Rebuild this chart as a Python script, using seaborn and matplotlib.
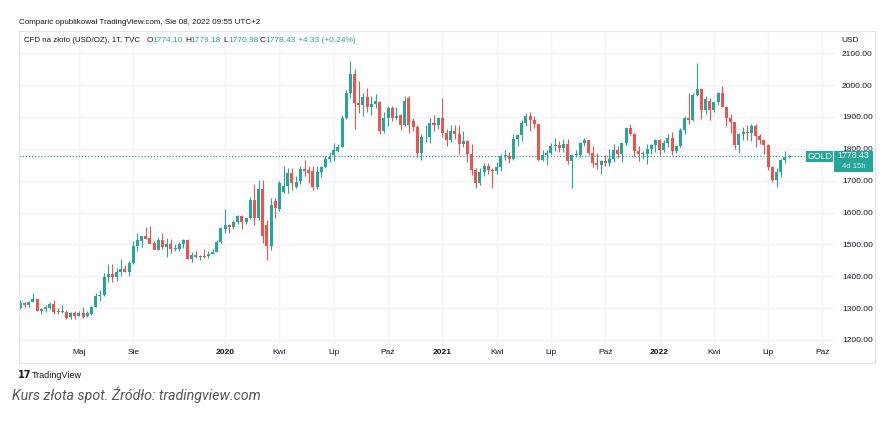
import numpy as np
import pandas as pd
import seaborn as sns
import matplotlib
matplotlib.use("Agg")
from matplotlib import pyplot as plt
from matplotlib.patches import Rectangle

# weekly TVC:GOLD candles, first bar = week of 2019-01-28
first_week = "2019-01-28"

opens = [
    # 2019
    1299, 1315, 1310, 1320, 1328, 1291, 1296, 1300, 1313, 1291, 1289, 1287, 1272, 1285, 1276, 1285,
    1274, 1281, 1304, 1339, 1341, 1396, 1407, 1396, 1414, 1422, 1414, 1440, 1495, 1511, 1525, 1519,
    1504, 1483, 1513, 1492, 1502, 1484, 1484, 1500, 1513, 1455, 1467, 1461, 1463, 1463, 1471, 1477,
    1507,
    # 2020
    1548, 1560, 1555, 1571, 1589, 1570, 1583, 1640, 1583, 1673, 1561, 1495, 1637, 1611, 1665, 1682,
    1725, 1681, 1700, 1738, 1733, 1731, 1679, 1728, 1742, 1768, 1780, 1794, 1806, 1898, 1974, 2035,
    1943, 1938, 1964, 1930, 1940, 1948, 1857, 1896, 1927, 1896, 1905, 1875, 1961, 1887, 1868, 1786,
    1836, 1836, 1880, 1875,
    # 2021
    1896, 1849, 1828, 1856, 1848, 1814, 1824, 1784, 1733, 1694, 1726, 1745, 1732, 1729, 1744, 1777,
    1778, 1769, 1831, 1844, 1881, 1903, 1891, 1877, 1764, 1781, 1787, 1808, 1812, 1802, 1814, 1763,
    1780, 1781, 1818, 1827, 1788, 1754, 1750, 1761, 1757, 1768, 1796, 1783, 1818, 1865, 1846, 1792,
    1783, 1784, 1798, 1811,
    # 2022
    1829, 1797, 1818, 1835, 1792, 1808, 1859, 1898, 1889, 1970, 1988, 1921, 1950, 1922, 1946, 1974,
    1932, 1896, 1883, 1811, 1846, 1853, 1851, 1871, 1840, 1827, 1811, 1742, 1703, 1727, 1766, 1774.10,
]
highs = [
    1326, 1319, 1323, 1346, 1330, 1300, 1311, 1320, 1325, 1300, 1310, 1293, 1288, 1290, 1290, 1302,
    1290, 1306, 1348, 1358, 1411, 1439, 1437, 1426, 1453, 1434, 1449, 1510, 1535, 1527, 1555, 1557,
    1512, 1523, 1535, 1519, 1516, 1500, 1506, 1516, 1516, 1475, 1478, 1466, 1484, 1479, 1484, 1514,
    1553,
    1611, 1563, 1575, 1592, 1591, 1584, 1649, 1689, 1703, 1703, 1575, 1645, 1645, 1700, 1747, 1740,
    1739, 1716, 1745, 1765, 1745, 1745, 1745, 1746, 1779, 1789, 1818, 1815, 1905, 1984, 2075, 2050,
    2013, 1976, 1992, 1966, 1973, 1950, 1917, 1933, 1933, 1931, 1910, 1965, 1965, 1898, 1875, 1848,
    1875, 1896, 1906, 1900,
    1959, 1863, 1875, 1876, 1875, 1855, 1827, 1816, 1740, 1740, 1755, 1757, 1740, 1759, 1784, 1797,
    1790, 1845, 1845, 1890, 1913, 1916, 1903, 1878, 1795, 1795, 1818, 1834, 1825, 1832, 1832, 1783,
    1795, 1823, 1834, 1828, 1809, 1787, 1765, 1781, 1800, 1814, 1810, 1818, 1868, 1877, 1849, 1808,
    1793, 1814, 1814, 1831,
    1831, 1829, 1848, 1853, 1810, 1865, 1903, 1974, 1974, 2070, 1990, 1966, 1959, 1949, 1978, 1998,
    1936, 1910, 1885, 1849, 1870, 1874, 1877, 1879, 1847, 1829, 1815, 1745, 1739, 1767, 1794, 1779.18,
]
lows = [
    1297, 1303, 1302, 1318, 1290, 1281, 1289, 1296, 1281, 1280, 1286, 1266, 1266, 1266, 1274, 1268,
    1273, 1277, 1303, 1322, 1339, 1382, 1381, 1386, 1400, 1412, 1400, 1437, 1480, 1492, 1516, 1504,
    1484, 1482, 1485, 1459, 1474, 1480, 1480, 1488, 1453, 1446, 1456, 1452, 1458, 1458, 1470, 1476,
    1505,
    1535, 1536, 1549, 1563, 1547, 1563, 1580, 1562, 1576, 1505, 1451, 1483, 1582, 1605, 1660, 1660,
    1671, 1677, 1690, 1716, 1693, 1670, 1675, 1710, 1741, 1758, 1763, 1790, 1806, 1893, 1961, 1862,
    1912, 1902, 1916, 1906, 1928, 1848, 1851, 1873, 1887, 1890, 1860, 1873, 1850, 1855, 1775, 1764,
    1822, 1819, 1855, 1863,
    1836, 1808, 1820, 1831, 1785, 1807, 1760, 1717, 1677, 1687, 1715, 1720, 1678, 1721, 1731, 1764,
    1756, 1765, 1808, 1824, 1871, 1855, 1866, 1761, 1761, 1750, 1785, 1793, 1789, 1791, 1753, 1677,
    1774, 1774, 1810, 1782, 1742, 1737, 1721, 1746, 1746, 1760, 1770, 1758, 1813, 1843, 1778, 1762,
    1767, 1753, 1784, 1789,
    1782, 1791, 1806, 1780, 1788, 1806, 1848, 1878, 1887, 1965, 1895, 1910, 1890, 1915, 1939, 1931,
    1872, 1850, 1798, 1787, 1829, 1828, 1825, 1805, 1816, 1784, 1732, 1697, 1681, 1711, 1754, 1770.98,
]
closes = [
    1315, 1310, 1320, 1328, 1291, 1297, 1302, 1313, 1289, 1289, 1290, 1270, 1283, 1275, 1285, 1272,
    1284, 1304, 1339, 1341, 1398, 1407, 1397, 1414, 1422, 1412, 1440, 1495, 1513, 1525, 1517, 1502,
    1483, 1513, 1492, 1502, 1484, 1489, 1500, 1513, 1455, 1467, 1461, 1463, 1459, 1471, 1475, 1507,
    1550,
    1560, 1555, 1571, 1589, 1570, 1583, 1640, 1583, 1673, 1526, 1495, 1623, 1613, 1694, 1682, 1725,
    1694, 1697, 1738, 1731, 1725, 1679, 1728, 1742, 1768, 1775, 1796, 1806, 1898, 1975, 2035, 1943,
    1938, 1964, 1930, 1940, 1950, 1857, 1896, 1927, 1896, 1903, 1875, 1951, 1875, 1868, 1786, 1836,
    1838, 1880, 1875, 1897,
    1849, 1828, 1856, 1848, 1814, 1824, 1784, 1733, 1694, 1726, 1745, 1732, 1729, 1744, 1777, 1778,
    1769, 1831, 1844, 1881, 1903, 1891, 1877, 1764, 1781, 1787, 1808, 1812, 1802, 1814, 1763, 1780,
    1781, 1818, 1827, 1788, 1754, 1750, 1761, 1757, 1768, 1796, 1783, 1818, 1865, 1846, 1792, 1783,
    1784, 1798, 1811, 1829,
    1797, 1818, 1835, 1792, 1808, 1859, 1898, 1889, 1970, 1988, 1921, 1958, 1922, 1946, 1974, 1932,
    1896, 1883, 1811, 1846, 1853, 1851, 1871, 1840, 1827, 1811, 1742, 1703, 1727, 1766, 1774.10, 1778.43,
]

tick_months = ["2019-05", "2019-08", "2020-01", "2020-04", "2020-07", "2020-10", "2021-01",
               "2021-04", "2021-07", "2021-10", "2022-01", "2022-04", "2022-07", "2022-10"]
tick_labels = ["Maj", "Sie", "2020", "Kwi", "Lip", "Paź", "2021",
               "Kwi", "Lip", "Paź", "2022", "Kwi", "Lip", "Paź"]
price_ticks = [1200, 1300, 1400, 1500, 1600, 1700, 1800, 1900, 2000, 2100]

UP = "#26a69a"
DOWN = "#ef5350"
TXT = "#131722"
GRID = "#f0f3fa"

W, H = 895, 432


def fx(px):
    return px / W


def fy(py):
    return 1 - py / H


df = pd.DataFrame({
    "week": pd.date_range(first_week, periods=len(closes), freq="W-MON"),
    "open": opens, "high": highs, "low": lows, "close": closes,
})
df["x"] = np.arange(len(df))
df["color"] = np.where(df["close"] >= df["open"], UP, DOWN)
df["bottom"] = df[["open", "close"]].min(axis=1)
df["body"] = (df["close"] - df["open"]).abs().clip(lower=2.5)

start = pd.Timestamp(first_week)
tick_pos = []
for m in tick_months:
    d = pd.Timestamp(m + "-01")
    monday = d + pd.Timedelta(days=(7 - d.weekday()) % 7)
    tick_pos.append((monday - start).days / 7)

sns.set_theme(style="white")
plt.rcParams["font.family"] = ["Liberation Sans", "DejaVu Sans"]

fig = plt.figure(figsize=(W / 100, H / 100), dpi=100)
ax = fig.add_axes([fx(19), fy(345), fx(835) - fx(19), fy(31) - fy(345)])

for v in price_ticks:
    ax.axhline(v, color=GRID, lw=1, zorder=0)
for p in tick_pos:
    ax.axvline(p, color=GRID, lw=1, zorder=0)

ax.vlines(df["x"], df["low"], df["high"], colors=df["color"], lw=0.8, zorder=2)
ax.bar(df["x"], df["body"], bottom=df["bottom"], width=0.72, color=df["color"],
       linewidth=0, zorder=3)

last = closes[-1]
ax.axhline(last, color=UP, lw=0.9, ls=(0, (1, 1.5)), zorder=4)

ax.set_xlim(-0.35, 195)
ax.set_ylim(1184, 2170)
ax.set_xticks(tick_pos)
ax.set_xticklabels(tick_labels)
for lab, txt in zip(ax.get_xticklabels(), tick_labels):
    if txt.isdigit():
        lab.set_fontweight("bold")
ax.yaxis.tick_right()
ax.set_yticks(price_ticks)
ax.set_yticklabels([f"{v:.2f}" for v in price_ticks])
ax.tick_params(axis="x", length=0, pad=3, labelsize=6, labelcolor=TXT)
ax.tick_params(axis="y", length=0, pad=5, labelsize=6, labelcolor=TXT)
for s in ax.spines.values():
    s.set_visible(False)
ax.set_xlabel("")
ax.set_ylabel("")

# frame round chart + price scale
fig.patches.append(Rectangle((fx(19), fy(363)), fx(875) - fx(19), fy(31) - fy(363),
                             transform=fig.transFigure, fill=False, edgecolor="#e0e3eb", lw=0.8))

# last price labels
fig.patches.append(Rectangle((fx(806), fy(162)), fx(833) - fx(806), fy(151) - fy(162),
                             transform=fig.transFigure, color=UP, lw=0, zorder=5))
fig.patches.append(Rectangle((fx(834), fy(172)), fx(873) - fx(834), fy(151) - fy(172),
                             transform=fig.transFigure, color=UP, lw=0, zorder=5))
fig.text(fx(819.5), fy(156.5), "GOLD", color="white", fontsize=6.3, ha="center", va="center", zorder=6)
fig.text(fx(853.5), fy(156), f"{last:.2f}", color="white", fontsize=6.3, ha="center", va="center", zorder=6)
fig.text(fx(853.5), fy(166), "4d 15h", color="#d8f0ed", fontsize=5.5, ha="center", va="center", zorder=6)

fig.text(fx(841), fy(40), "USD", color=TXT, fontsize=6, ha="left", va="center")

# headers
fig.text(fx(19), fy(22), "Comparic opublikował TradingView.com, Sie 08, 2022 09:55 UTC+2",
         color=TXT, fontsize=5.8, ha="left", va="center")
y2 = fy(41)
fig.text(fx(24), y2, "CFD na złoto (USD/OZ), 1T, TVC", color=TXT, fontsize=5.7, ha="left", va="center")
chg = closes[-1] - closes[-2]
pct = chg / closes[-2] * 100
parts = [(147, "O", TXT), (152, f"{opens[-1]:.2f}", UP), (185, "H", TXT), (190, f"{highs[-1]:.2f}", UP),
         (223, "L", TXT), (228, f"{lows[-1]:.2f}", UP), (260, "C", TXT), (265, f"{closes[-1]:.2f}", UP),
         (298, f"{chg:+.2f} ({pct:+.2f}%)", UP)]
for px, s, c in parts:
    fig.text(fx(px), y2, s, color=c, fontsize=6, ha="left", va="center")

# footer
fig.text(fx(18), fy(375.5), "17", color=TXT, fontsize=7, fontweight="bold", ha="left", va="center",
         family=["DejaVu Sans"])
fig.text(fx(32), fy(375.5), "TradingView", color=TXT, fontsize=6.5, ha="left", va="center")
fig.text(fx(12), fy(400), "Kurs złota spot. Źródło: tradingview.com", color="#555555", fontsize=10.3,
         style="italic", ha="left", va="baseline", family=["Roboto", "DejaVu Sans"])

fig.savefig("out.png", dpi=100, facecolor="white")
